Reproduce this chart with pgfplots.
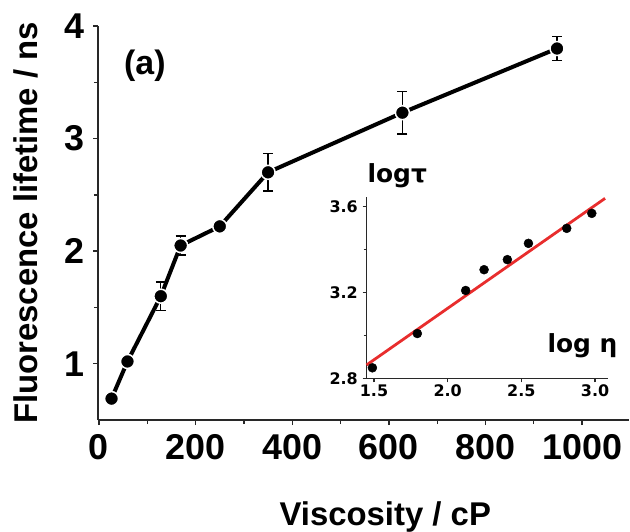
\documentclass[border=0pt]{standalone}
\usepackage{fontspec}
\setmainfont{Liberation Sans}
\newfontfamily\dejavu{DejaVu Sans}
\usepackage{pgfplots}
\pgfplotsset{compat=1.18}
\usepackage{pgfplotstable}
\definecolor{axgray}{RGB}{40,40,40}
\definecolor{fitred}{RGB}{232,45,45}
\pgfplotstableread{
x y e
26 0.69 0
59 1.02 0.02
128 1.60 0.125
169 2.05 0.085
250 2.22 0.03
350 2.70 0.165
628 3.23 0.19
948 3.80 0.105
}\maindata
\pgfplotstableread{
x y
1.489 2.849
1.794 3.009
2.122 3.210
2.247 3.307
2.405 3.354
2.548 3.430
2.808 3.500
2.978 3.570
}\insetdata
\pgfplotstableread{
x y
1.449 2.862
3.068 3.640
}\fitdata
\begin{document}
\begin{tikzpicture}[x=1bp,y=1bp]
\useasboundingbox (-98bp,-112bp) rectangle (532bp,420bp);
\begin{axis}[
  at={(0bp,0bp)}, anchor=south west,
  scale only axis, width=531bp, height=394bp,
  xmin=-2, xmax=1097, ymin=0.5, ymax=4,
  axis lines=left, axis line style={-, line width=1.3bp, axgray},
  xtick={0,200,...,1000}, minor xtick={100,300,...,900},
  ytick={1,2,3,4}, minor ytick={1.5,2.5,3.5},
  tick align=outside, major tick length=5bp, minor tick length=4bp,
  every tick/.style={axgray, line width=1.3bp},
  tick label style={font=\fontsize{36}{36}\selectfont\bfseries, inner sep=2bp},
  xticklabel style={yshift=-7bp},
  yticklabel style={xshift=-6bp},
  /pgf/number format/assume math mode=true,
  /pgf/number format/1000 sep={},
  xlabel={Viscosity / cP},
  ylabel={Fluorescence lifetime / ns},
  label style={font=\fontsize{33}{33}\selectfont\bfseries},
  xlabel style={at={(axis description cs:0.541,0)}, anchor=base, yshift=-105bp},
  ylabel style={at={(axis description cs:-0.1365,0.5)}, anchor=center},
  clip=false,
]
\addplot[black, line width=4bp, mark=*, mark size=7bp,
  mark options={fill=black, draw=white, line width=1.5bp},
  error bars/.cd, y dir=both, y explicit,
  error bar style={line width=1.3bp, black},
  error mark options={rotate=90, mark size=5bp, line width=1.3bp, black}]
  table[x=x, y=y, y error=e] {\maindata};
\node[font=\fontsize{34}{34}\selectfont\bfseries] at (axis cs:95,3.65) {(a)};
\end{axis}
\begin{axis}[
  at={(268.5bp,41.7bp)}, anchor=south west,
  scale only axis, width=241.5bp, height=181bp,
  xmin=1.449, xmax=3.088, ymin=2.8, ymax=3.645,
  axis lines=left, axis line style={-, line width=1.2bp, axgray},
  xtick={1.5,2.0,2.5,3.0},
  ytick={2.8,3.2,3.6}, minor ytick={3.0,3.4},
  tick align=outside, major tick length=4bp, minor tick length=3bp,
  every tick/.style={axgray, line width=1.1bp},
  tick label style={font=\dejavu\fontsize{16}{16}\selectfont\bfseries, inner sep=1.5bp},
  xticklabel style={yshift=-1bp},
  yticklabel style={xshift=-3bp},
  /pgf/number format/assume math mode=true,
  /pgf/number format/.cd, fixed, fixed zerofill, precision=1,
  /pgfplots/.cd,
  clip=false,
]
\addplot[fitred, line width=2.8bp] table[x=x,y=y] {\fitdata};
\addplot[only marks, black, mark=*, mark size=4.5bp] table[x=x,y=y] {\insetdata};
\end{axis}
\node[anchor=base west, font=\dejavu\fontsize{25}{25}\selectfont\bfseries] at (266bp,237bp) {logτ};
\node[anchor=base west, font=\dejavu\fontsize{25}{25}\selectfont\bfseries] at (446bp,67bp) {log η};
\end{tikzpicture}
\end{document}
